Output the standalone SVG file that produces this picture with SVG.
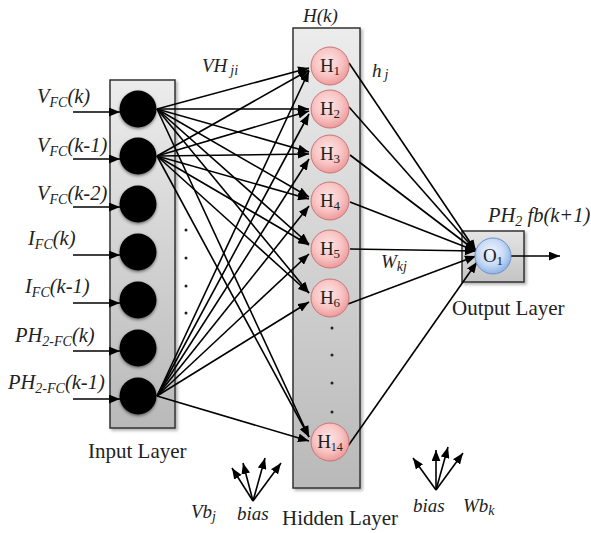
<svg xmlns="http://www.w3.org/2000/svg" width="591" height="533" viewBox="0 0 591 533">
<style>
.ln{stroke:#000;stroke-width:1.6;fill:none;marker-end:url(#ah)}
.lbl{font-family:"Liberation Serif","Times New Roman",serif;font-style:italic;font-size:20.5px;fill:#222}
.plain{font-family:"Liberation Serif","Times New Roman",serif;font-size:21px;fill:#222}
.sub{font-size:14px}
.hn{fill:url(#pink);stroke:#c77575;stroke-width:1}
.ht{font-family:"Liberation Serif","Times New Roman",serif;font-size:19px;fill:#222;text-anchor:middle}
.in{fill:#000;filter:url(#sh)}
.box{stroke:#333;stroke-width:1.5;filter:url(#bsh)}
.dot{fill:#222}
</style>
<defs>
<marker id="ah" viewBox="0 0 10 8" markerUnits="userSpaceOnUse" markerWidth="11" markerHeight="9" refX="10" refY="4" orient="auto">
<path d="M0,0 L10,4 L0,8 Z" fill="#000"/>
</marker>
<linearGradient id="gbox" x1="0" y1="0" x2="0" y2="1">
<stop offset="0" stop-color="#ececec"/>
<stop offset="1" stop-color="#b9b9b9"/>
</linearGradient>
<linearGradient id="gobox" x1="0" y1="0" x2="0" y2="1">
<stop offset="0" stop-color="#e4e4e4"/>
<stop offset="1" stop-color="#c4c4c4"/>
</linearGradient>
<radialGradient id="pink" cx="0.45" cy="0.4" r="0.6">
<stop offset="0" stop-color="#fde6e6"/>
<stop offset="0.6" stop-color="#f8c4c4"/>
<stop offset="1" stop-color="#ee9a9a"/>
</radialGradient>
<radialGradient id="blue" cx="0.45" cy="0.4" r="0.6">
<stop offset="0" stop-color="#f2f6ff"/>
<stop offset="0.6" stop-color="#c7daf6"/>
<stop offset="1" stop-color="#8fb2e6"/>
</radialGradient>
<filter id="sh" x="-30%" y="-30%" width="160%" height="160%">
<feDropShadow dx="0" dy="1.5" stdDeviation="1.5" flood-color="#000" flood-opacity="0.5"/>
</filter>
<filter id="bsh" x="-10%" y="-5%" width="125%" height="115%">
<feDropShadow dx="2" dy="2" stdDeviation="1.5" flood-color="#000" flood-opacity="0.3"/>
</filter>
</defs>

<g id="input-layer">
<rect class="box" x="110" y="80" width="65" height="348" fill="url(#gbox)"/>
<text class="plain" x="88" y="458">Input Layer</text>
</g>
<g id="hidden-layer">
<rect class="box" x="293" y="28" width="67" height="460" fill="url(#gbox)"/>
<text class="lbl" x="303" y="22" style="font-size:19px">H(k)</text>
<text class="plain" x="282" y="525">Hidden Layer</text>
</g>
<g id="output-layer">
<rect class="box" x="462" y="231" width="62" height="51" fill="url(#gobox)"/>
<text class="plain" x="452" y="315">Output Layer</text>
</g>

<g id="connectors">
<line class="ln" x1="73" y1="112" x2="120" y2="112"/>
<line class="ln" x1="73" y1="159" x2="120" y2="159"/>
<line class="ln" x1="73" y1="207" x2="120" y2="207"/>
<line class="ln" x1="73" y1="255" x2="120" y2="255"/>
<line class="ln" x1="73" y1="303" x2="120" y2="303"/>
<line class="ln" x1="73" y1="351" x2="120" y2="351"/>
<line class="ln" x1="73" y1="399" x2="120" y2="399"/>

<line class="ln" x1="157" y1="109" x2="309" y2="68"/>
<line class="ln" x1="157" y1="109" x2="309" y2="109"/>
<line class="ln" x1="157" y1="109" x2="309" y2="152"/>
<line class="ln" x1="157" y1="109" x2="309" y2="197"/>
<line class="ln" x1="157" y1="109" x2="309" y2="244"/>
<line class="ln" x1="157" y1="109" x2="309" y2="293"/>
<line class="ln" x1="157" y1="109" x2="309" y2="437"/>

<line class="ln" x1="157" y1="156" x2="309" y2="70"/>
<line class="ln" x1="157" y1="156" x2="309" y2="111"/>
<line class="ln" x1="157" y1="156" x2="309" y2="154"/>
<line class="ln" x1="157" y1="156" x2="309" y2="199"/>
<line class="ln" x1="157" y1="156" x2="309" y2="245"/>
<line class="ln" x1="157" y1="156" x2="309" y2="293"/>
<line class="ln" x1="157" y1="156" x2="309" y2="437"/>

<line class="ln" x1="157" y1="396" x2="309" y2="71"/>
<line class="ln" x1="157" y1="396" x2="309" y2="114"/>
<line class="ln" x1="157" y1="396" x2="309" y2="159"/>
<line class="ln" x1="157" y1="396" x2="309" y2="206"/>
<line class="ln" x1="157" y1="396" x2="309" y2="254"/>
<line class="ln" x1="157" y1="396" x2="309" y2="302"/>
<line class="ln" x1="157" y1="396" x2="309" y2="441"/>

<line class="ln" x1="349" y1="63" x2="476" y2="251"/>
<line class="ln" x1="349" y1="107" x2="476" y2="251"/>
<line class="ln" x1="350" y1="155" x2="476" y2="251"/>
<line class="ln" x1="350" y1="202" x2="476" y2="251"/>
<line class="ln" x1="350" y1="249" x2="476" y2="251"/>
<line class="ln" x1="348" y1="304" x2="476" y2="256"/>
<line class="ln" x1="348" y1="446" x2="477" y2="262"/>

<line class="ln" x1="511" y1="256" x2="560" y2="256"/>

<line class="ln" x1="253" y1="501" x2="232" y2="468"/>
<line class="ln" x1="253" y1="501" x2="243" y2="463"/>
<line class="ln" x1="253" y1="501" x2="265" y2="458"/>
<line class="ln" x1="253" y1="501" x2="281" y2="463"/>

<line class="ln" x1="436" y1="490" x2="413" y2="458"/>
<line class="ln" x1="436" y1="490" x2="436" y2="450"/>
<line class="ln" x1="436" y1="490" x2="448" y2="447"/>
<line class="ln" x1="436" y1="490" x2="463" y2="453"/>
</g>

<g id="input-nodes">
<g id="in1"><circle class="in" cx="138" cy="109" r="18.5"/><text class="lbl" x="37" y="103">V<tspan class="sub" dy="4">FC</tspan><tspan dy="-4">(k)</tspan></text></g>
<g id="in2"><circle class="in" cx="138" cy="156" r="18.5"/><text class="lbl" x="37" y="152">V<tspan class="sub" dy="4">FC</tspan><tspan dy="-4">(k-1)</tspan></text></g>
<g id="in3"><circle class="in" cx="138" cy="204" r="18.5"/><text class="lbl" x="37" y="200">V<tspan class="sub" dy="4">FC</tspan><tspan dy="-4">(k-2)</tspan></text></g>
<g id="in4"><circle class="in" cx="138" cy="252" r="18.5"/><text class="lbl" x="28" y="245">I<tspan class="sub" dy="4">FC</tspan><tspan dy="-4">(k)</tspan></text></g>
<g id="in5"><circle class="in" cx="138" cy="300" r="18.5"/><text class="lbl" x="25" y="293">I<tspan class="sub" dy="4">FC</tspan><tspan dy="-4">(k-1)</tspan></text></g>
<g id="in6"><circle class="in" cx="138" cy="348" r="18.5"/><text class="lbl" x="15" y="342">PH<tspan class="sub" dy="4">2-FC</tspan><tspan dy="-4">(k)</tspan></text></g>
<g id="in7"><circle class="in" cx="138" cy="396" r="18.5"/><text class="lbl" x="8" y="389">PH<tspan class="sub" dy="4">2-FC</tspan><tspan dy="-4">(k-1)</tspan></text></g>
<circle class="dot" cx="186" cy="230" r="1.5"/>
<circle class="dot" cx="186" cy="258" r="1.5"/>
<circle class="dot" cx="186" cy="286" r="1.5"/>
<circle class="dot" cx="186" cy="313" r="1.5"/>
</g>

<g id="hidden-nodes">
<g id="h1"><circle class="hn" cx="330" cy="66" r="19"/><text class="ht" x="330" y="72">H<tspan font-size="13" dy="3">1</tspan></text></g>
<g id="h2"><circle class="hn" cx="330" cy="109" r="19"/><text class="ht" x="330" y="115">H<tspan font-size="13" dy="3">2</tspan></text></g>
<g id="h3"><circle class="hn" cx="330" cy="154" r="19"/><text class="ht" x="330" y="160">H<tspan font-size="13" dy="3">3</tspan></text></g>
<g id="h4"><circle class="hn" cx="330" cy="201" r="19"/><text class="ht" x="330" y="207">H<tspan font-size="13" dy="3">4</tspan></text></g>
<g id="h5"><circle class="hn" cx="330" cy="249" r="19"/><text class="ht" x="330" y="255">H<tspan font-size="13" dy="3">5</tspan></text></g>
<g id="h6"><circle class="hn" cx="330" cy="298" r="19"/><text class="ht" x="330" y="304">H<tspan font-size="13" dy="3">6</tspan></text></g>
<g id="h14"><circle class="hn" cx="330" cy="442" r="19"/><text class="ht" x="330" y="448">H<tspan font-size="12" dy="3">14</tspan></text></g>
<circle class="dot" cx="332" cy="328" r="1.5"/>
<circle class="dot" cx="332" cy="355" r="1.5"/>
<circle class="dot" cx="332" cy="383" r="1.5"/>
<circle class="dot" cx="332" cy="412" r="1.5"/>
</g>

<g id="output-node">
<circle cx="493" cy="256" r="18" fill="url(#blue)" stroke="#6f93c9" stroke-width="1"/>
<text class="ht" x="493" y="262">O<tspan font-size="13" dy="3">1</tspan></text>
<text class="lbl" x="488" y="222">PH<tspan class="sub" dy="4">2</tspan><tspan dy="-4"> fb(k+1)</tspan></text>
</g>

<g id="labels">
<text class="lbl" x="202" y="72" style="font-size:19px">VH<tspan class="sub" dx="3" dy="3">ji</tspan></text>
<text class="lbl" x="372" y="77" style="font-size:19px">h<tspan class="sub" dx="3" dy="2">j</tspan></text>
<text class="lbl" x="381" y="268" style="font-size:19px">W<tspan class="sub" dy="3">kj</tspan></text>
<text class="lbl" x="191" y="518" style="font-size:19px">Vb<tspan class="sub" dy="3">j</tspan></text>
<text class="lbl" x="237" y="520" style="font-size:19px">bias</text>
<text class="lbl" x="413" y="512" style="font-size:19px">bias</text>
<text class="lbl" x="463" y="512" style="font-size:19px">Wb<tspan class="sub" dy="3">k</tspan></text>
</g>
</svg>
